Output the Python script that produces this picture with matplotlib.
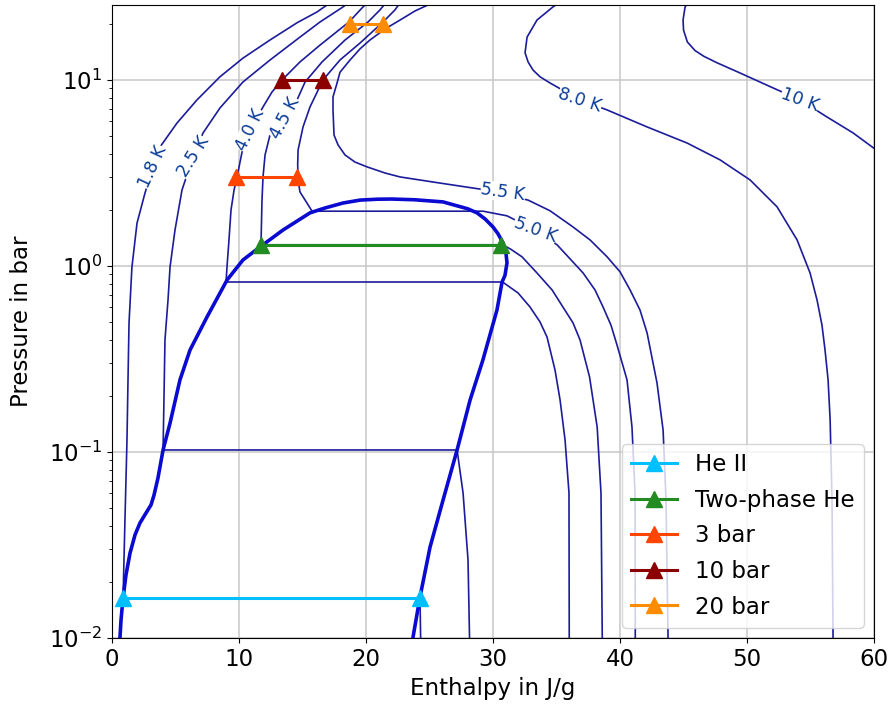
import matplotlib
matplotlib.use("Agg")
import matplotlib.pyplot as plt

# ---------------- data (enthalpy in J/g, pressure in bar) ----------------
dome_h = [0.63, 0.71, 0.87, 1.10, 1.42, 1.81, 2.20, 2.68, 3.07, 3.31, 3.62, 4.02, 4.57,
          5.35, 6.14, 7.48, 9.06, 10.31, 11.65, 13.46, 15.59, 16.77, 18.19, 19.53, 20.9,
          22.0, 23.8, 26.06, 28.0, 28.74, 29.37, 30.0, 30.39, 30.79, 31.02, 31.1, 30.94,
          30.71, 30.31, 29.2, 28.19, 27.17, 26.06, 25.04, 24.25, 23.7]
dome_p = [0.0101, 0.0125, 0.0164, 0.0218, 0.0286, 0.0358, 0.0415, 0.047, 0.0519, 0.0587,
          0.0725, 0.1025, 0.143, 0.244, 0.353, 0.532, 0.841, 1.077, 1.265, 1.56, 1.93,
          2.05, 2.18, 2.26, 2.285, 2.29, 2.27, 2.21, 2.03, 1.93, 1.79, 1.62, 1.49, 1.33,
          1.17, 1.04, 0.89, 0.82, 0.58, 0.312, 0.19, 0.1025, 0.055, 0.0308, 0.0166, 0.0101]

T18_h = [24.3, 24.25, 0.87, 1.02, 1.18, 1.26, 1.34, 1.57, 1.97, 2.60, 3.23, 3.78, 5.12,
         6.69, 8.50, 10.31, 12.44, 14.57, 16.14, 16.93, 17.56]
T18_p = [0.0100, 0.0164, 0.0164, 0.043, 0.116, 0.244, 0.494, 0.988, 1.70, 2.47, 3.41, 4.36,
         5.87, 7.81, 10.4, 13.1, 16.4, 20.3, 23.2, 25.3, 26.9]

T25_h = [28.15, 28.03, 27.64, 27.17, 4.02, 4.09, 4.17, 4.41, 4.57, 4.96, 5.51, 6.38, 7.17,
         8.50, 10.31, 12.44, 14.8, 16.38, 18.19, 18.9]
T25_p = [0.0100, 0.0263, 0.0602, 0.1025, 0.1025, 0.19, 0.40, 0.656, 0.988, 1.56, 2.56, 3.86,
         5.19, 7.07, 9.75, 12.8, 17.0, 20.5, 24.7, 26.9]

T40_h = [36.0, 35.98, 35.67, 35.28, 34.88, 34.25, 33.7, 32.91, 31.97, 30.75, 8.98, 9.06,
         9.21, 9.37, 9.61, 9.84, 10.24, 10.87, 11.89, 12.6, 13.39, 14.8, 16.38, 18.66,
         19.69, 20.31]
T40_p = [0.0100, 0.0602, 0.116, 0.19, 0.276, 0.415, 0.50, 0.602, 0.716, 0.82, 0.82, 1.0,
         1.38, 2.0, 2.56, 3.0, 4.10, 5.39, 7.16, 8.62, 10.0, 12.5, 15.4, 20.5, 24.4, 26.9]

T45_h = [38.6, 38.5, 38.2, 37.6, 36.85, 36.3, 35.5, 34.65, 33.46, 32.28, 31.4, 30.75,
         11.73, 11.81, 11.89, 12.05, 12.44, 13.62, 14.57, 15.2, 16.54, 18.35, 20.16,
         21.1, 21.73]
T45_p = [0.0100, 0.060, 0.136, 0.253, 0.40, 0.494, 0.602, 0.743, 0.917, 1.12, 1.23, 1.30,
         1.30, 2.26, 3.01, 3.95, 5.06, 6.25, 7.81, 9.75, 12.5, 16.4, 20.5, 23.8, 26.9]

T50_h = [41.2, 41.18, 40.94, 40.55, 39.76, 39.29, 38.66, 38.03, 37.09, 35.04, 33.31,
         31.1, 29.21, 15.75, 15.35, 14.8, 14.65, 14.62, 14.65, 15.04, 15.59, 16.61, 17.95,
         19.53, 21.34, 22.28, 22.83]
T50_p = [0.0100, 0.0602, 0.136, 0.244, 0.376, 0.48, 0.602, 0.743, 0.917, 1.30, 1.56,
         1.86, 1.97, 1.97, 2.18, 2.50, 2.90, 3.5, 4.20, 5.59, 7.16, 10.0, 12.8, 15.8,
         20.5, 23.8, 26.9]

T55_h = [43.78, 43.62, 43.39, 42.91, 42.13, 41.57, 40.79, 40.0, 38.98, 37.64, 36.3,
         34.49, 32.76, 28.98, 25.83, 22.68, 21.5, 20.08, 19.13, 18.35, 17.8, 17.48, 17.4,
         17.4, 17.72, 17.95, 18.74, 19.53, 20.31, 21.5, 22.68, 23.86, 25.2]
T55_p = [0.0100, 0.055, 0.131, 0.235, 0.436, 0.58, 0.743, 0.93, 1.12, 1.38, 1.62, 1.98,
         2.26, 2.59, 2.79, 3.01, 3.16, 3.41, 3.62, 3.95, 4.47, 5.06, 6.90, 8.11, 9.63,
         11.0, 12.8, 14.7, 16.4, 18.8, 21.0, 23.5, 25.9]

T80_h = [56.77, 56.69, 56.54, 56.38, 56.14, 55.9, 55.51, 54.96, 53.94, 52.36, 50.24,
         47.87, 45.28, 42.13, 38.98, 36.85, 34.49, 33.7, 33.15, 32.76, 32.52, 32.6,
         32.68, 33.46, 34.72, 35.2]
T80_p = [0.0100, 0.055, 0.149, 0.244, 0.353, 0.48, 0.656, 0.917, 1.38, 2.08, 2.90, 3.72,
         4.58, 5.59, 6.90, 7.81, 9.63, 10.4, 11.3, 12.5, 14.0, 15.4, 17.0, 21.0, 24.7, 26.0]

T100_h = [60.6, 58.35, 56.3, 54.17, 52.05, 49.45, 47.6, 46.6, 45.9, 45.3, 45.0, 44.96,
          45.12, 45.5]
T100_p = [4.0, 5.19, 6.32, 7.81, 9.06, 10.9, 12.4, 13.4, 14.4, 16.0, 18.5, 21.0, 24.7, 26.9]

isotherms = [(T18_h, T18_p), (T25_h, T25_p), (T40_h, T40_p), (T45_h, T45_p),
             (T50_h, T50_p), (T55_h, T55_p), (T80_h, T80_p), (T100_h, T100_p)]

label_texts = ["1.8 K", "2.5 K", "4.0 K", "4.5 K", "5.0 K", "5.5 K", "8.0 K", "10 K"]
label_h = [3.23, 6.38, 10.87, 13.62, 33.31, 30.79, 36.85, 54.17]
label_p = [3.41, 3.86, 5.39, 6.25, 1.56, 2.50, 7.81, 7.81]
label_rot = [65, 58, 64, 62, -20, -8, -18, -20]

series_names = ["He II", "Two-phase He", "3 bar", "10 bar", "20 bar"]
series_h = [[0.87, 24.25], [11.73, 30.6], [9.8, 14.6], [13.4, 16.6], [18.7, 21.3]]
series_p = [[0.0164, 0.0164], [1.30, 1.30], [3.0, 3.0], [10.0, 10.0], [20.0, 20.0]]
series_colors = ["deepskyblue", "forestgreen", "orangered", "darkred", "darkorange"]

# ---------------- plot ----------------
fig = plt.figure(figsize=(8.91, 7.11), dpi=100)
ax = fig.add_axes([0.1257, 0.1027, 0.8553, 0.8903])

line_col = "#1c1c9a"
for h, p in isotherms:
    ax.plot(h, p, color=line_col, lw=1.2, zorder=2, solid_joinstyle="round")

ax.plot(dome_h, dome_p, color="#0a0ad0", lw=2.6, zorder=3, solid_joinstyle="round")

for t, h, p, r in zip(label_texts, label_h, label_p, label_rot):
    ax.text(h, p, t, rotation=r, rotation_mode="anchor", ha="center", va="center",
            color="#0b3c96", fontsize=12.5, zorder=4,
            bbox=dict(facecolor="white", edgecolor="none", pad=0.2))

for name, h, p, c in zip(series_names, series_h, series_p, series_colors):
    ax.plot(h, p, color=c, lw=2.2, marker="^", markersize=11, label=name, zorder=5)

ax.set_yscale("log")
ax.set_xlim(0, 60)
ax.set_ylim(0.01, 25.3)
ax.grid(True, which="major", color="#c8c8c8", lw=1.1)
ax.set_axisbelow(True)
ax.set_xlabel("Enthalpy in J/g", fontsize=16.5)
ax.set_ylabel("Pressure in bar", fontsize=16.5)
ax.yaxis.set_label_coords(-0.104, 0.5)
ax.xaxis.set_label_coords(0.5, -0.062)
ax.tick_params(labelsize=16.5)
ax.legend(loc="lower right", fontsize=16.5, borderaxespad=0.45, labelspacing=0.55)

fig.savefig("out.png", dpi=100)
